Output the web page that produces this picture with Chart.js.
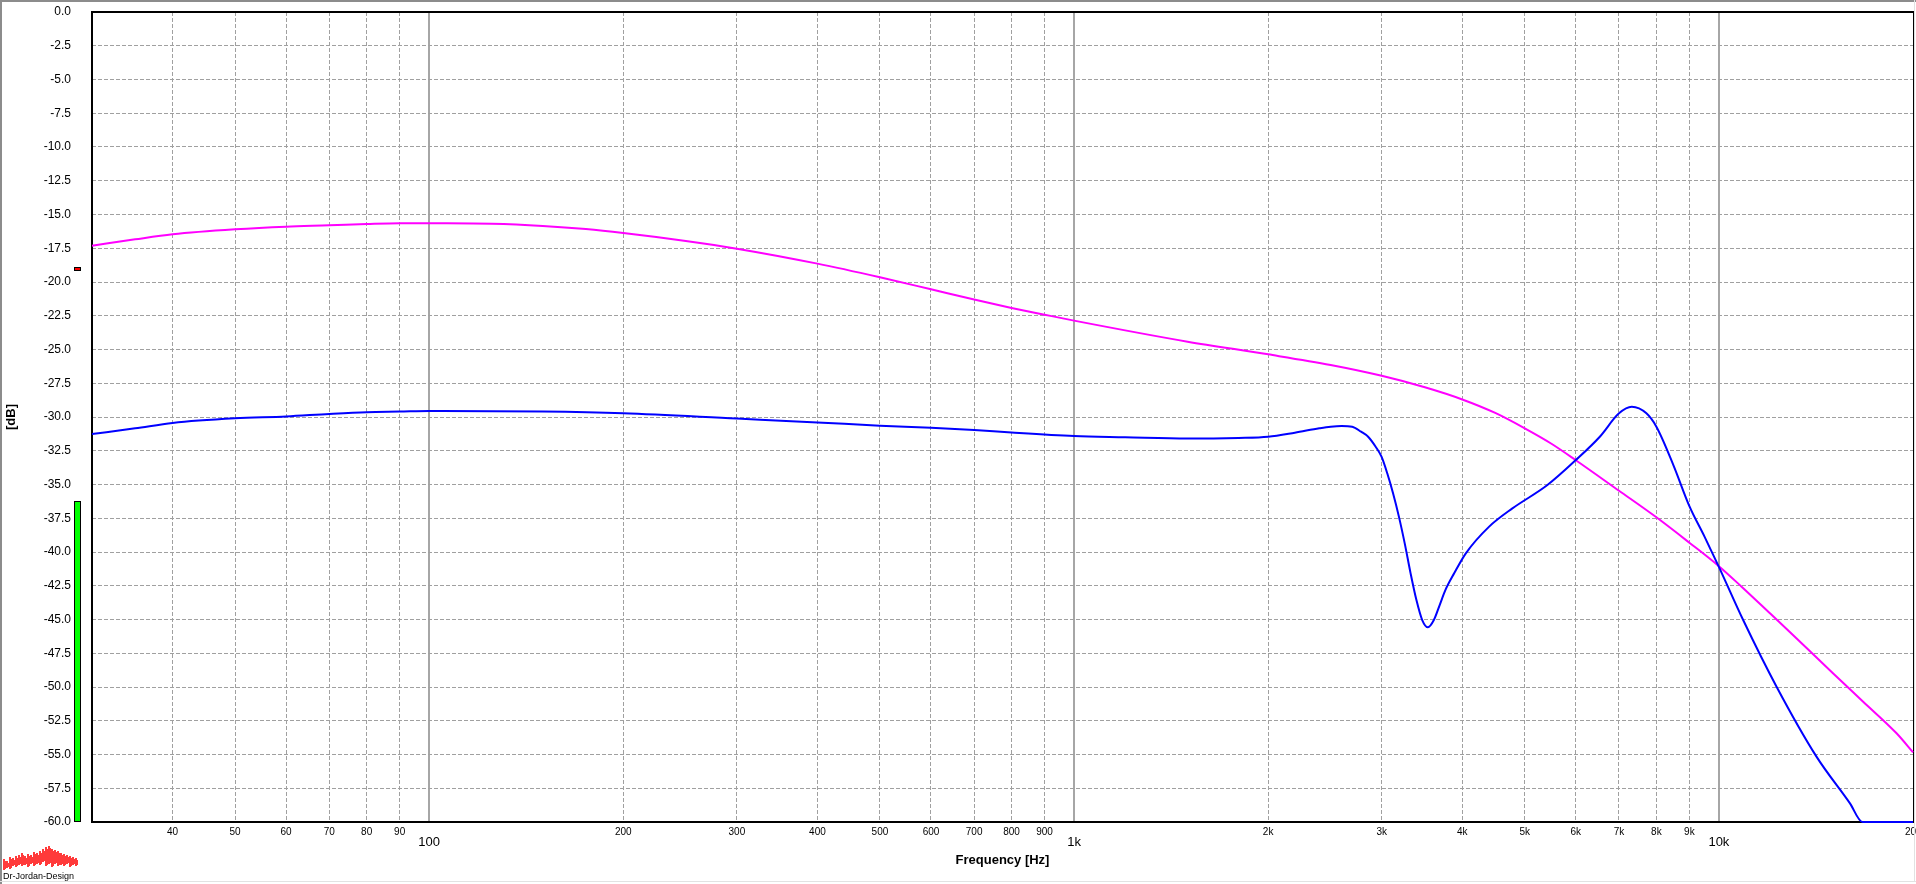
<!DOCTYPE html>
<html><head><meta charset="utf-8">
<script src="https://cdn.jsdelivr.net/npm/chart.js@4/dist/chart.umd.min.js"></script>
<style>html,body{margin:0;padding:0;background:#fff;overflow:hidden}canvas{display:block}</style>
</head><body>
<canvas id="c" width="1916" height="884"></canvas>
<script>
// ---- data ----
const freqMagenta = [30,35,40,50,60,70,80,90,100,125,150,175,200,250,300,400,500,600,700,800,900,1000,1500,2000,2500,3000,3500,4000,4500,5000,5500,6000,7000,8000,9000,10000,10845,12000,13200,15000,16740,18860,20000];
const dbMagenta   = [-17.31,-16.84,-16.47,-16.10,-15.90,-15.80,-15.70,-15.64,-15.65,-15.69,-15.85,-16.08,-16.37,-16.96,-17.53,-18.64,-19.65,-20.54,-21.30,-21.92,-22.42,-22.86,-24.42,-25.36,-26.15,-26.95,-27.80,-28.70,-29.70,-30.84,-31.98,-33.20,-35.46,-37.43,-39.31,-41.05,-42.57,-44.54,-46.40,-48.94,-51.09,-53.43,-54.84];

const freqBlue = [30,35,40,50,60,70,80,90,100,150,200,300,400,500,600,700,800,1000,1200,1500,1800,2000,2200,2400,2500,2600,2700,2787,2858,2936,2998,3060,3124,3190,3257,3326,3396,3467,3539,3614,3690,3767,3886,4051,4403,4784,5421,6000,6537,7000,7328,7720,8000,8500,9000,9500,10000,10906,12287,14170,15970,16700,20000];
const dbBlue   = [-31.26,-30.84,-30.44,-30.10,-29.96,-29.77,-29.64,-29.60,-29.56,-29.60,-29.73,-30.12,-30.40,-30.64,-30.79,-30.96,-31.15,-31.41,-31.50,-31.60,-31.55,-31.46,-31.16,-30.84,-30.72,-30.67,-30.72,-31.09,-31.46,-32.20,-32.94,-34.17,-35.65,-37.38,-39.36,-41.58,-43.56,-45.04,-45.58,-45.04,-43.93,-42.81,-41.58,-40.10,-38.12,-36.77,-35.04,-33.19,-31.46,-29.73,-29.24,-29.73,-30.72,-33.56,-36.60,-38.86,-41.10,-45.04,-49.98,-55.16,-58.62,-60,-60];

const xTickValues = [40,50,60,70,80,90,100,200,300,400,500,600,700,800,900,1000,2000,3000,4000,5000,6000,7000,8000,9000,10000,20000];
const xTickLabels = ['40','50','60','70','80','90','100','200','300','400','500','600','700','800','900','1k','2k','3k','4k','5k','6k','7k','8k','9k','10k','20k'];
const xMajorTicks = [100,1000,10000];
const yMin = -60, yMax = 0, yStep = 2.5;

// level meter decoration values (dB)
const meterLevel = -36.2;
const peakHoldLevel = -19.0;

// logo columns [top, bottom]
const logoCols = [[859,870],[861,868],[857,869],[858,866],[856,867],[855,865],[853,866],[856,865],[854,867],[855,864],[852,866],[853,864],[851,865],[849,862],[847,866],[846,864],[849,867],[850,864],[851,866],[853,865],[854,866],[855,864],[856,867],[857,865],[858,866]];

const FONT = "'Liberation Sans', Arial, sans-serif";
const isMajor = (ctx) => ctx && ctx.tick && xMajorTicks.includes(ctx.tick.value);

const decor = {
  id: 'decor',
  beforeDraw(chart) {
    const c = chart.ctx;
    c.save(); c.fillStyle = '#fff'; c.fillRect(0, 0, chart.width, chart.height); c.restore();
  },
  beforeDatasetsDraw(chart) {
    const c = chart.ctx, a = chart.chartArea;
    c.save();
    c.fillStyle = '#000';
    c.fillRect(a.left - 1, a.top - 1, a.right - a.left + 2, 2);
    c.fillRect(a.left - 1, a.top - 1, 2, a.bottom - a.top + 2);
    c.fillRect(a.left - 1, a.bottom - 1, a.right - a.left + 2, 2);
    c.fillRect(a.right, a.top - 1, 1, a.bottom - a.top + 2);
    c.restore();
  },
  afterDraw(chart) {
    const c = chart.ctx, y = chart.scales.y;
    c.save();
    // level meter
    const top = Math.round(y.getPixelForValue(meterLevel));
    const bot = Math.round(y.getPixelForValue(yMin));
    c.fillStyle = '#000';
    c.fillRect(74, top, 7, bot - top);
    c.fillStyle = '#00ff00';
    c.fillRect(75, top + 1, 5, bot - top - 2);
    const pk = Math.round(y.getPixelForValue(peakHoldLevel));
    c.fillStyle = '#000';
    c.fillRect(74, pk - 2, 7, 4);
    c.fillStyle = '#ff0000';
    c.fillRect(75, pk - 1, 5, 2);
    // logo
    c.fillStyle = '#ff3a3a';
    logoCols.forEach((p, i) => { c.fillRect(3 + i * 3, p[0], 2, p[1] - p[0]); c.fillRect(4 + i * 3, p[0] + 2, 2, p[1] - p[0] - 3); });
    c.fillStyle = '#000';
    c.font = '9px ' + FONT;
    c.textBaseline = 'alphabetic';
    c.fillText('Dr-Jordan-Design', 3, 878.5);
    // window frame
    c.fillStyle = '#8c8c8c';
    c.fillRect(0, 0, chart.width, 2);
    c.fillRect(0, 0, 2, chart.height);
    c.fillStyle = '#e2e2e2';
    c.fillRect(0, 881, chart.width, 1);
    c.fillRect(1914, 0, 1, 882);
    c.restore();
  }
};

const chart = new Chart(document.getElementById('c'), {
  type: 'line',
  data: {
    datasets: [
      { label: 'blue', data: freqBlue.map((f, i) => ({x: f, y: dbBlue[i]})), borderColor: '#0000ff', borderWidth: 2, clip: 2 },
      { label: 'magenta', data: freqMagenta.map((f, i) => ({x: f, y: dbMagenta[i]})), borderColor: '#ff00ff', borderWidth: 2, clip: 2 }
    ]
  },
  options: {
    responsive: false,
    animation: false,
    devicePixelRatio: 1,
    layout: { padding: { top: 12, right: 3, left: 0, bottom: 0 } },
    plugins: { legend: { display: false }, tooltip: { enabled: false } },
    elements: { point: { radius: 0 }, line: { cubicInterpolationMode: 'monotone', borderJoinStyle: 'round' } },
    scales: {
      x: {
        type: 'logarithmic', min: 30, max: 20000, bounds: 'data', position: 'bottom',
        afterBuildTicks(s) { s.ticks = xTickValues.map(v => ({ value: v })); },
        afterFit(s) { s.height = 62; s.paddingLeft = 0; s.paddingRight = 0; s.paddingTop = 0; s.paddingBottom = 0; },
        grid: {
          drawTicks: false,
          color: ctx => isMajor(ctx) ? '#a6a6a6' : '#a0a0a0',
          lineWidth: ctx => isMajor(ctx) ? 2 : 1
        },
        border: { display: false, dash: ctx => isMajor(ctx) ? [] : [4, 2] },
        ticks: {
          autoSkip: false, maxRotation: 0, minRotation: 0, padding: 4, color: '#000',
          callback: (v, i) => xTickLabels[i],
          font: ctx => isMajor(ctx) ? { family: FONT, size: 13, lineHeight: '32px' } : { family: FONT, size: 10 }
        },
        title: { display: true, text: 'Frequency [Hz]', color: '#000', font: { family: FONT, size: 13, weight: 'bold' }, padding: { top: 0, bottom: 16 } }
      },
      y: {
        min: yMin, max: yMax,
        afterFit(s) { s.width = 92; s.paddingTop = 0; s.paddingBottom = 0; s.paddingLeft = 0; s.paddingRight = 0; },
        grid: { drawTicks: false, color: '#a0a0a0', lineWidth: 1 },
        border: { display: false, dash: [4, 2] },
        ticks: { stepSize: yStep, padding: 21, color: '#000', font: { family: FONT, size: 12 }, callback: v => Number(v).toFixed(1) },
        title: { display: true, text: '[dB]', color: '#000', font: { family: FONT, size: 13, weight: 'bold' }, padding: { top: 4, bottom: 0 } }
      }
    }
  },
  plugins: [decor]
});
</script>
</body></html>
